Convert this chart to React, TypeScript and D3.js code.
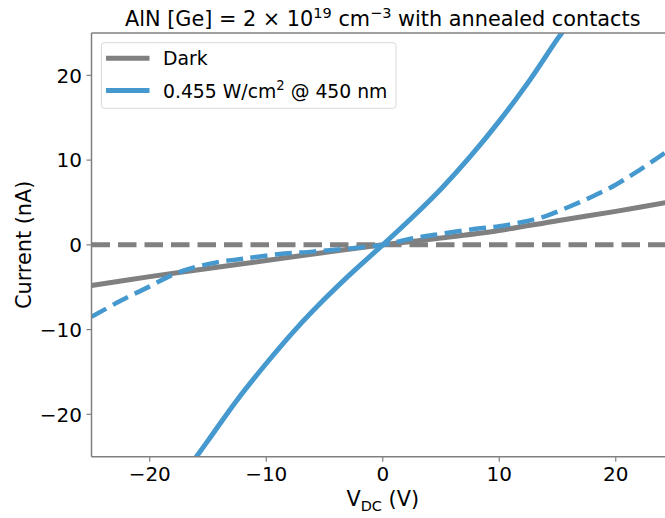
import React from "react";
import * as d3 from "d3";

const darkV = [-25, -20, -15, -10, -5, 0, 5, 10, 15, 20, 25];
const darkI = [-4.8, -3.75, -2.8, -1.85, -0.9, 0, 0.8, 1.7, 2.85, 3.95, 5.15];

const darkZeroV = [-25, 25];
const darkZeroI = [0, 0];

const lightV = [-16.2, -15, -12.5, -10, -7.5, -5, -2.5, 0, 2.5, 5, 7.5, 10, 12.5, 15, 15.7];
const lightI = [-25.4, -23.1, -18.3, -14.0, -10.0, -6.4, -3.1, 0, 3.2, 6.6, 10.4, 14.6, 19.2, 24.3, 25.6];

const lightDashV = [-25, -22.5, -20, -18, -16, -14, -12, -9, -6, -3, 0, 2.5, 5, 8, 10, 12, 14, 16, 18, 20, 22, 25];
const lightDashI = [-8.5, -6.6, -4.9, -3.5, -2.6, -2.0, -1.65, -1.1, -0.8, -0.45, 0, 0.75, 1.3, 1.9, 2.2, 2.7, 3.4, 4.5, 5.7, 7.1, 8.8, 11.6];

const xTicks = [-20, -10, 0, 10, 20];
const yTicks = [-20, -10, 0, 10, 20];

const GRAY = "#808080";
const BLUE = "#4599cf";
const FONT = "DejaVu Sans";

export default function App() {
  const W = 665, H = 518;
  const left = 91.5, right = 674, top = 33, bottom = 456.7;
  const x = d3.scaleLinear().domain([-25, 25]).range([left, right]);
  const y = d3.scaleLinear().domain([-25, 25]).range([bottom, top]);
  const line = (vs: number[], is: number[]) =>
    d3.line<number>()
      .x((_, k) => x(vs[k]))
      .y((_, k) => y(is[k]))
      .curve(d3.curveCatmullRom.alpha(0.5))(vs) || "";

  const TF = 20;
  const LF = 20.8;
  return (
    <svg width={W} height={H} style={{ position: "absolute", left: 0, top: 0, fontFamily: FONT }}>
      <defs>
        <clipPath id="plot">
          <rect x={left} y={top} width={right - left} height={bottom - top} />
        </clipPath>
      </defs>
      <rect width={W} height={H} fill="white" />
      <g clipPath="url(#plot)" fill="none" strokeLinecap="butt">
        <path d={line(darkZeroV, darkZeroI)} stroke={GRAY} strokeWidth={5} strokeDasharray="18.5,8" />
        <path d={line(darkV, darkI)} stroke={GRAY} strokeWidth={5} />
        <path d={line(lightDashV, lightDashI)} stroke={BLUE} strokeWidth={4.5} strokeDasharray="17,7.5" />
        <path d={line(lightV, lightI)} stroke={BLUE} strokeWidth={5} />
      </g>
      <g stroke={GRAY} strokeWidth={1.5} fill="none">
        <line x1={left} x2={left} y1={top} y2={bottom} />
        <line x1={left} x2={right} y1={bottom} y2={bottom} />
        <line x1={left} x2={right} y1={top} y2={top} />
        <line x1={right} x2={right} y1={top} y2={bottom} />
      </g>
      {xTicks.map((t) => (
        <g key={"x" + t}>
          <line x1={x(t)} x2={x(t)} y1={bottom} y2={bottom + 5} stroke={GRAY} strokeWidth={1.2} />
          <text x={x(t)} y={481} textAnchor="middle" fontSize={TF} fill="black">
            {t < 0 ? "\u2212" + Math.abs(t) : String(t)}
          </text>
        </g>
      ))}
      {yTicks.map((t) => (
        <g key={"y" + t}>
          <line x1={left - 5} x2={left} y1={y(t)} y2={y(t)} stroke={GRAY} strokeWidth={1.2} />
          <text x={left - 9.5} y={y(t) + 7.2} textAnchor="end" fontSize={TF} fill="black">
            {t < 0 ? "\u2212" + Math.abs(t) : String(t)}
          </text>
        </g>
      ))}
      <text x={(left + right) / 2} y={506} textAnchor="middle" fontSize={LF} fill="black">
        V<tspan fontSize={14.5} dy={4.5}>DC</tspan>
        <tspan dy={-4.5}> (V)</tspan>
      </text>
      <text transform={`translate(30.5,${(top + bottom) / 2}) rotate(-90)`} textAnchor="middle" fontSize={LF} fill="black">
        Current (nA)
      </text>
      <text x={(left + right) / 2} y={26} textAnchor="middle" fontSize={LF} fill="black">
        AlN [Ge] = 2 × 10<tspan fontSize={14.5} dy={-8}>19</tspan>
        <tspan dy={8}> cm</tspan>
        <tspan fontSize={14.5} dy={-8}>−3</tspan>
        <tspan dy={8}> with annealed contacts</tspan>
      </text>
      <rect x={101.5} y={42.7} width={294.5} height={65.6} rx={3} fill="white" fillOpacity={0.8} stroke="#d9d9d9" strokeWidth={1} />
      <line x1={106} x2={149.5} y1={58.3} y2={58.3} stroke={GRAY} strokeWidth={5} />
      <line x1={106} x2={149.5} y1={90.5} y2={90.5} stroke={BLUE} strokeWidth={5} />
      <text x={163} y={65} fontSize={18.8} fill="black">Dark</text>
      <text x={163} y={97.5} fontSize={18.8} fill="black">
        0.455 W/cm<tspan fontSize={13.2} dy={-7.5}>2</tspan>
        <tspan dy={7.5}> @ 450 nm</tspan>
      </text>
    </svg>
  );
}
